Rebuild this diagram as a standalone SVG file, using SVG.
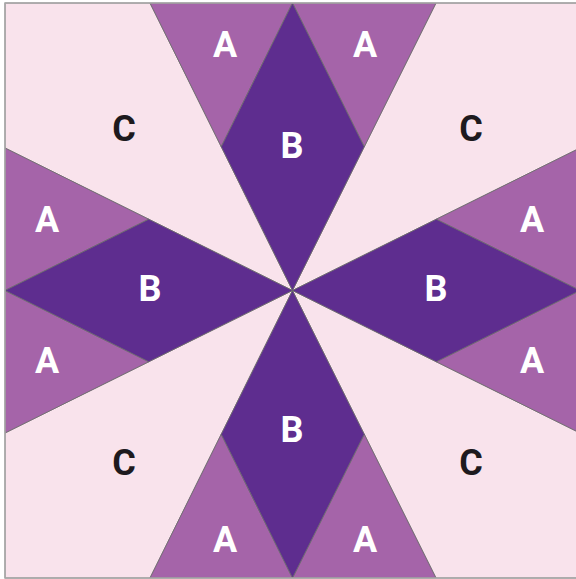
<svg xmlns="http://www.w3.org/2000/svg" width="576" height="579" viewBox="0 0 576 579">
<style>
.c{fill:#f9e3ec;stroke:#6b6b6b;stroke-width:0.8}
.a{fill:#a564a9;stroke:#6b6b6b;stroke-width:0.8}
.b{fill:#5e2d8f;stroke:#6b6b6b;stroke-width:0.8}
text{font-family:Roboto,"Liberation Sans",sans-serif;font-weight:700;font-size:36px;text-anchor:middle}
.lw{fill:#ffffff}
.lk{fill:#1e1a1e}
</style>
<rect x="0" y="0" width="576" height="579" fill="#ffffff"/>
<g id="C-pieces">
<g id="C-tl"><polygon class="c" points="5,3 150,3 292.5,290.5 5,148"/><text class="lk" x="124" y="141">C</text></g>
<g id="C-tr"><polygon class="c" points="580,3 436,3 292.5,290.5 580,148"/><text class="lk" x="471" y="141">C</text></g>
<g id="C-bl"><polygon class="c" points="5,578 150,578 292.5,290.5 5,433"/><text class="lk" x="124" y="475">C</text></g>
<g id="C-br"><polygon class="c" points="580,578 436,578 292.5,290.5 580,433"/><text class="lk" x="471" y="475">C</text></g>
</g>
<g id="A-pieces">
<g id="A-t1"><polygon class="a" points="150,3 292.5,3 221.25,146.75"/><text class="lw" x="225" y="57">A</text></g>
<g id="A-t2"><polygon class="a" points="292.5,3 436,3 364.25,146.75"/><text class="lw" x="365" y="57">A</text></g>
<g id="A-l1"><polygon class="a" points="5,148 5,290.5 148.75,219.25"/><text class="lw" x="47" y="232">A</text></g>
<g id="A-l2"><polygon class="a" points="5,290.5 5,433 148.75,361.75"/><text class="lw" x="47" y="373">A</text></g>
<g id="A-r1"><polygon class="a" points="580,148 580,290.5 436.25,219.25"/><text class="lw" x="532" y="232">A</text></g>
<g id="A-r2"><polygon class="a" points="580,290.5 580,433 436.25,361.75"/><text class="lw" x="532" y="373">A</text></g>
<g id="A-b1"><polygon class="a" points="150,578 292.5,578 221.25,434.25"/><text class="lw" x="225" y="552">A</text></g>
<g id="A-b2"><polygon class="a" points="292.5,578 436,578 364.25,434.25"/><text class="lw" x="365" y="552">A</text></g>
</g>
<g id="B-pieces">
<g id="B-top"><polygon class="b" points="292.5,3 221.25,146.75 292.5,290.5 364.25,146.75"/><text class="lw" x="292" y="158">B</text></g>
<g id="B-left"><polygon class="b" points="5,290.5 148.75,219.25 292.5,290.5 148.75,361.75"/><text class="lw" x="150" y="301">B</text></g>
<g id="B-right"><polygon class="b" points="580,290.5 436.25,219.25 292.5,290.5 436.25,361.75"/><text class="lw" x="436" y="301">B</text></g>
<g id="B-bottom"><polygon class="b" points="292.5,578 221.25,434.25 292.5,290.5 364.25,434.25"/><text class="lw" x="292" y="442">B</text></g>
</g>
<rect x="5" y="3" width="575" height="575" fill="none" stroke="#a8a8a8" stroke-width="1.5"/>
</svg>
